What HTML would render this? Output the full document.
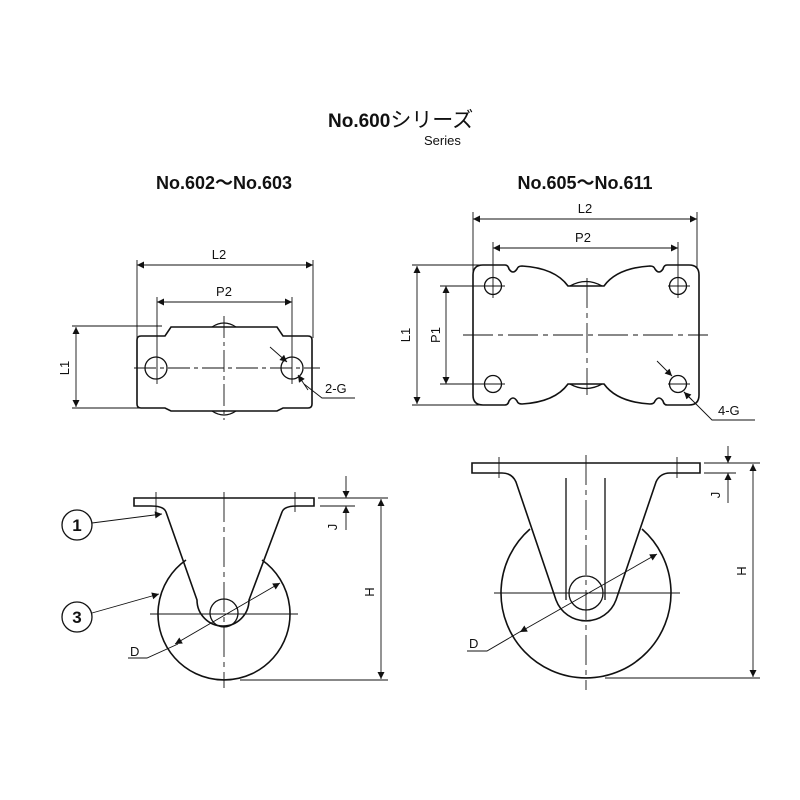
<!DOCTYPE html>
<html><head><meta charset="utf-8"><style>
html,body{margin:0;padding:0;background:#fff;}
svg{display:block;}
text{font-family:"Liberation Sans","Noto Sans CJK JP",sans-serif;fill:#111;}
</style></head><body>
<svg width="800" height="800" viewBox="0 0 800 800" xmlns="http://www.w3.org/2000/svg">
<defs>
<marker id="a" viewBox="0 0 10 10" refX="10" refY="5" markerWidth="10" markerHeight="7" markerUnits="userSpaceOnUse" orient="auto-start-reverse"><path d="M0,0 L10,5 L0,10 z" fill="#111"/></marker>
</defs>
<text x="328" y="127" font-size="19" font-weight="bold">No.600<tspan font-weight="normal" font-size="21">シリーズ</tspan></text>
<text x="424" y="145" font-size="13">Series</text>
<text x="224" y="189" font-size="18" font-weight="bold" text-anchor="middle">No.602～No.603</text>
<text x="585" y="189" font-size="18" font-weight="bold" text-anchor="middle">No.605～No.611</text>

<g fill="none" stroke="#111" stroke-width="1.3">
<!-- LEFT TOP VIEW -->
<path d="M141,336 L165,336 L171,327 L277,327 L283,336 L308,336 Q312,336 312,340 L312,404 Q312,408 308,408 L283,408 L277,411 L171,411 L165,408 L141,408 Q137,408 137,404 L137,340 Q137,336 141,336 Z" stroke-width="1.6"/>
<path d="M212,327 Q224,319 236,327 M212,411 Q224,419 236,411"/>
<circle cx="156" cy="368" r="11"/><circle cx="292" cy="368" r="11"/>
<g stroke-width="0.9">
<path d="M134,368 H320" stroke-dasharray="22,4,4,4"/>
<path d="M224,316 V420" stroke-dasharray="22,4,4,4"/>
<path d="M137,260 V338 M313,260 V338 M157,297 V384 M292,297 V384"/>
<path d="M72,326 H162 M72,408 H160"/>
<path d="M137,265 H313" marker-start="url(#a)" marker-end="url(#a)"/>
<path d="M157,302 H292" marker-start="url(#a)" marker-end="url(#a)"/>
<path d="M76,327 V407" marker-start="url(#a)" marker-end="url(#a)"/>
<path d="M270,347 L287,362" marker-end="url(#a)"/>
<path d="M304,384 L322,398 H355"/>
<path d="M308,390 L298,375" marker-end="url(#a)"/>
</g>

<!-- RIGHT TOP VIEW -->
<path d="M483,265 L505,265 Q508,265 509,269 Q513,275 517,269 Q518,266 522,266 Q555,268 568,286 L604,286 Q617,268 650,266 Q654,266 655,269 Q659,275 663,269 Q664,265 667,265 L689,265 Q699,265 699,275 L699,395 Q699,405 689,405 L667,405 Q664,405 663,401 Q659,395 655,401 Q654,404 650,404 Q617,402 604,384 L568,384 Q555,402 522,404 Q518,404 517,401 Q513,395 509,401 Q508,405 505,405 L483,405 Q473,405 473,395 L473,275 Q473,265 483,265 Z" stroke-width="1.6"/>
<path d="M570,286 Q586,277 602,286 M570,384 Q586,393 602,384"/>
<circle cx="493" cy="286" r="8.5"/><circle cx="678" cy="286" r="8.5"/>
<circle cx="493" cy="384" r="8.5"/><circle cx="678" cy="384" r="8.5"/>
<g stroke-width="0.9">
<path d="M463,335 H708" stroke-dasharray="30,5,5,5"/>
<path d="M587,278 V395" stroke-dasharray="30,5,5,5"/>
<path d="M473,212 V272 M697,212 V268 M493,242 V298 M678,242 V298"/>
<path d="M412,265 H483 M412,405 H481 M440,286 H505 M440,384 H505 M668,286 H690 M668,384 H690"/>
<path d="M473,219 H697" marker-start="url(#a)" marker-end="url(#a)"/>
<path d="M493,248 H678" marker-start="url(#a)" marker-end="url(#a)"/>
<path d="M417,266 V404" marker-start="url(#a)" marker-end="url(#a)"/>
<path d="M446,286 V384" marker-start="url(#a)" marker-end="url(#a)"/>
<path d="M657,361 L672,376" marker-end="url(#a)"/>
<path d="M684,392 L712,420 H755"/>
<path d="M692,400 L684,392" marker-end="url(#a)"/>
</g>

<!-- LEFT SIDE VIEW -->
<path d="M134,498 H314 V506 H297 Q284,506 282,512 L249,600 A26,26 0 0 1 197,600 L166,512 Q164,506 151,506 H134 Z" stroke-width="1.6"/>
<path d="M186,560 A66,66 0 1 0 262,560" stroke-width="1.6"/>
<circle cx="224" cy="613" r="14"/>
<g stroke-width="0.9">
<path d="M224,492 V688" stroke-dasharray="30,5,5,5"/>
<path d="M150,614 H298"/>
<path d="M156,492 V512 M295,492 V512"/>
<path d="M318,498 H388 M320,506 H355 M240,680 H388"/>
<path d="M381,499 V679" marker-start="url(#a)" marker-end="url(#a)"/>
<path d="M346,476 V498" marker-end="url(#a)"/>
<path d="M346,530 V506" marker-end="url(#a)"/>
<path d="M175,644 L280,583" marker-start="url(#a)" marker-end="url(#a)"/>
<path d="M128,658 H147 L178,644"/>
<path d="M92,523 L162,514" marker-end="url(#a)"/>
<path d="M92,613 L159,594" marker-end="url(#a)"/>
</g>
<circle cx="77" cy="525" r="15" stroke-width="1.3"/>
<circle cx="77" cy="617" r="15" stroke-width="1.3"/>

<!-- RIGHT SIDE VIEW -->
<path d="M472,463 H700 V473 H670 Q660,473 656,482 L616,600 A32,32 0 0 1 556,600 L516,482 Q512,473 502,473 H472 Z" stroke-width="1.6"/>
<path d="M530,529 A85,85 0 1 0 642,529" stroke-width="1.6"/>
<circle cx="586" cy="593" r="17"/>
<path d="M566,478 V600 M605,478 V600"/>
<g stroke-width="0.9">
<path d="M586,455 V690" stroke-dasharray="30,5,5,5"/>
<path d="M494,593 H680"/>
<path d="M499,457 V478 M677,457 V478"/>
<path d="M704,463 H760 M704,473 H736 M605,678 H760"/>
<path d="M753,464 V677" marker-start="url(#a)" marker-end="url(#a)"/>
<path d="M728,446 V463" marker-end="url(#a)"/>
<path d="M728,503 V473" marker-end="url(#a)"/>
<path d="M520,632 L657,554" marker-start="url(#a)" marker-end="url(#a)"/>
<path d="M467,651 H487 L523,630"/>
</g>
</g>

<g font-size="13">
<text x="219" y="259" text-anchor="middle">L2</text>
<text x="224" y="296" text-anchor="middle">P2</text>
<text transform="translate(69,368) rotate(-90)" text-anchor="middle">L1</text>
<text x="325" y="393">2-G</text>
<text x="585" y="213" text-anchor="middle">L2</text>
<text x="583" y="242" text-anchor="middle">P2</text>
<text transform="translate(410,335) rotate(-90)" text-anchor="middle">L1</text>
<text transform="translate(440,335) rotate(-90)" text-anchor="middle">P1</text>
<text x="718" y="415">4-G</text>
<text transform="translate(374,592) rotate(-90)" text-anchor="middle">H</text>
<text transform="translate(337,527) rotate(-90)" text-anchor="middle">J</text>
<text x="130" y="656">D</text>
<text transform="translate(746,571) rotate(-90)" text-anchor="middle">H</text>
<text transform="translate(720,495) rotate(-90)" text-anchor="middle">J</text>
<text x="469" y="648">D</text>
</g>
<g font-size="17" font-weight="bold" text-anchor="middle">
<text x="77" y="531">1</text>
<text x="77" y="623">3</text>
</g>
</svg>
</body></html>
